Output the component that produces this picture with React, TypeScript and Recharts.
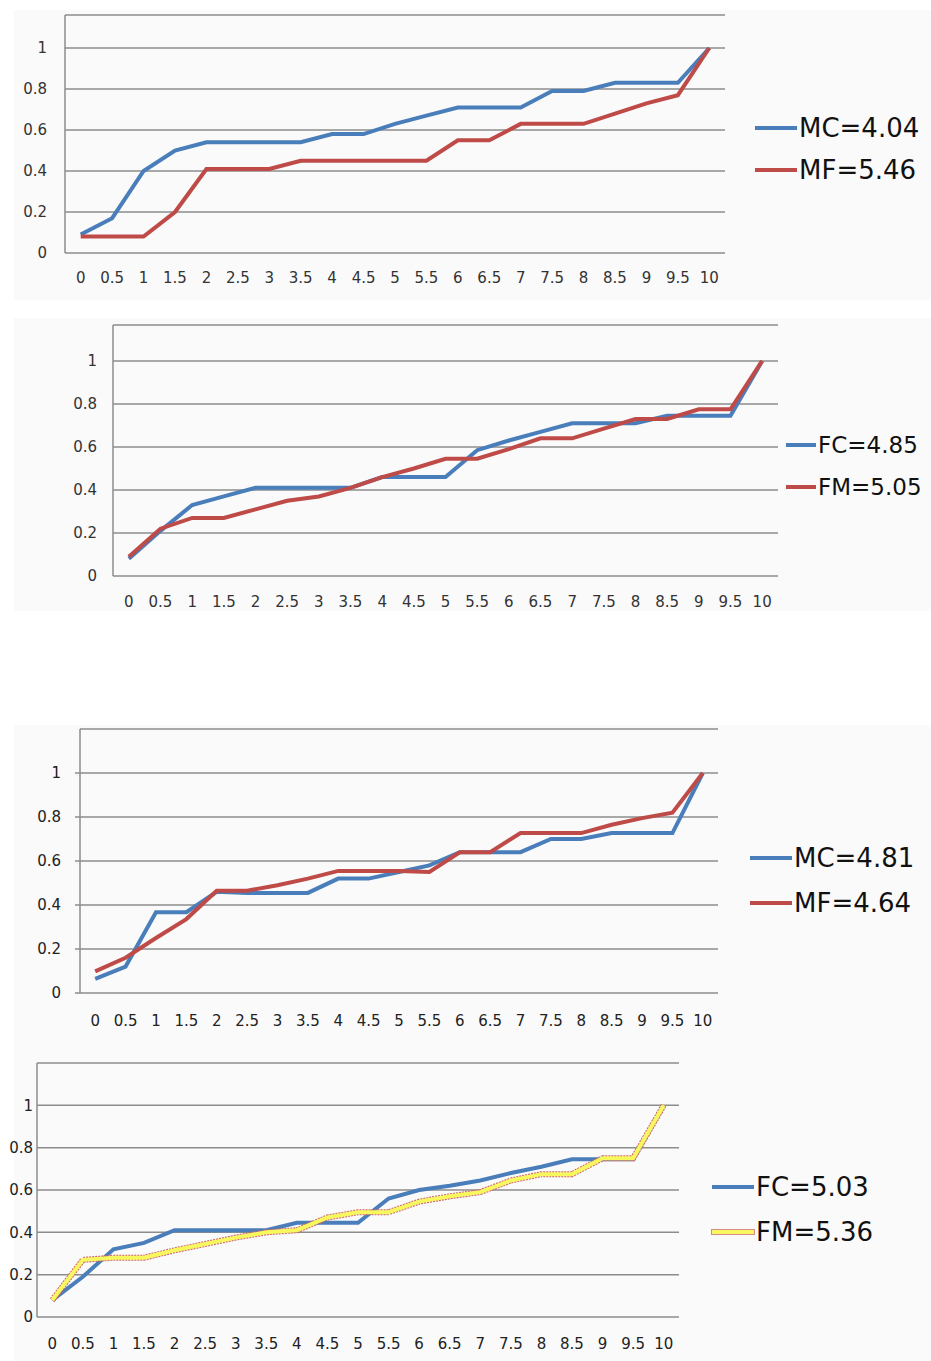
import React from 'react';
import { LineChart, Line, XAxis, YAxis, CartesianGrid } from 'recharts';

// categories (x values)
const categories = [0, 0.5, 1, 1.5, 2, 2.5, 3, 3.5, 4, 4.5, 5, 5.5, 6, 6.5, 7, 7.5, 8, 8.5, 9, 9.5, 10];
const yTicks = [0, 0.2, 0.4, 0.6, 0.8, 1];

// chart 1
const mc1 = [0.09, 0.17, 0.4, 0.5, 0.54, 0.54, 0.54, 0.54, 0.58, 0.58, 0.63, 0.67, 0.71, 0.71, 0.71, 0.79, 0.79, 0.83, 0.83, 0.83, 1.0];
const mf1 = [0.08, 0.08, 0.08, 0.2, 0.41, 0.41, 0.41, 0.45, 0.45, 0.45, 0.45, 0.45, 0.55, 0.55, 0.63, 0.63, 0.63, 0.68, 0.73, 0.77, 1.0];
// chart 2
const fc2 = [0.08, 0.21, 0.33, 0.37, 0.41, 0.41, 0.41, 0.41, 0.46, 0.46, 0.46, 0.585, 0.63, 0.67, 0.71, 0.71, 0.71, 0.745, 0.745, 0.745, 1.0];
const fm2 = [0.09, 0.22, 0.27, 0.27, 0.31, 0.35, 0.37, 0.41, 0.46, 0.5, 0.545, 0.545, 0.59, 0.64, 0.64, 0.685, 0.73, 0.73, 0.775, 0.775, 1.0];
// chart 3
const mc3 = [0.064, 0.12, 0.367, 0.367, 0.46, 0.455, 0.455, 0.455, 0.52, 0.52, 0.55, 0.58, 0.64, 0.64, 0.64, 0.7, 0.7, 0.727, 0.727, 0.727, 1.0];
const mf3 = [0.098, 0.16, 0.25, 0.336, 0.465, 0.465, 0.49, 0.52, 0.555, 0.555, 0.555, 0.55, 0.64, 0.64, 0.727, 0.727, 0.727, 0.765, 0.795, 0.82, 1.0];
// chart 4
const fc4 = [0.08, 0.19, 0.32, 0.35, 0.41, 0.41, 0.41, 0.41, 0.445, 0.445, 0.445, 0.56, 0.6, 0.62, 0.645, 0.68, 0.71, 0.745, 0.745, 0.745, 1.0];
const fm4 = [0.08, 0.27, 0.28, 0.28, 0.315, 0.345, 0.375, 0.4, 0.41, 0.47, 0.495, 0.495, 0.545, 0.57, 0.59, 0.645, 0.675, 0.675, 0.75, 0.75, 1.0];

const labels1 = ['MC=4.04', 'MF=5.46'];
const labels2 = ['FC=4.85', 'FM=5.05'];
const labels3 = ['MC=4.81', 'MF=4.64'];
const labels4 = ['FC=5.03', 'FM=5.36'];

const BLUE = '#4a7ebb';
const RED = '#be4b48';
const YELLOW = '#f7f75e';
const GRID = '#8c8c8c';

const boundaries = categories.map((c) => c - 0.25).concat([categories[categories.length - 1] + 0.25]);

function buildData(a: number[], b: number[]) {
  return categories.map((x, i) => ({ x, a: a[i], b: b[i] }));
}

type LegendItem = { name: string; color: string; outline?: string; left: number; top: number };

type PanelProps = {
  top: number;
  height: number;
  axisX: number;
  plotRight: number;
  plotTop: number;
  zeroY: number;
  yMax: number;
  a: number[];
  b: number[];
  bColor: string;
  bOutline?: string;
  legend: LegendItem[];
  legendFont?: number;
  swatch?: number;
  strongTicks?: boolean;
  yTickMargin: number;
  xTickMargin: number;
  textColor: string;
};

function Panel(p: PanelProps) {
  const data = buildData(p.a, p.b);
  const labelH = p.top + p.height - p.zeroY;
  const tickFont = { fontFamily: 'DejaVu Sans, sans-serif', fontSize: 15, fill: p.textColor };
  const lf = p.legendFont || 26;
  return (
    <div style={{ position: 'absolute', left: 0, top: p.top, width: 931, height: p.height }}>
      <LineChart
        width={931}
        height={p.height}
        data={data}
        margin={{ top: p.plotTop - p.top, right: 931 - p.plotRight, bottom: 0, left: 0 }}
      >
        <CartesianGrid vertical={false} stroke={GRID} strokeWidth={1.5} />
        <XAxis
          xAxisId={0}
          type="number"
          dataKey="x"
          domain={[boundaries[0], boundaries[boundaries.length - 1]]}
          ticks={boundaries}
          tick={false}
          height={0}
          axisLine={{ stroke: GRID, strokeWidth: 1.5 }}
          tickLine={p.strongTicks ? { stroke: GRID, strokeWidth: 1.5 } : { stroke: '#c9c9c9', strokeWidth: 1 }}
          tickSize={p.strongTicks ? 8 : 3}
        />
        <XAxis
          xAxisId="lab"
          type="number"
          dataKey="x"
          domain={[boundaries[0], boundaries[boundaries.length - 1]]}
          ticks={categories}
          interval={0}
          height={labelH}
          axisLine={false}
          tickLine={false}
          tickMargin={p.xTickMargin}
          tick={tickFont}
        />
        <YAxis
          type="number"
          domain={[0, p.yMax]}
          ticks={yTicks}
          width={p.axisX}
          axisLine={{ stroke: GRID, strokeWidth: 1.5 }}
          tickLine={p.strongTicks ? { stroke: GRID, strokeWidth: 1.5 } : false}
          tickSize={p.strongTicks ? 5 : 0}
          tickMargin={p.yTickMargin}
          tick={tickFont}
        />
        <Line
          type="linear"
          dataKey="a"
          stroke={BLUE}
          strokeWidth={4}
          dot={false}
          isAnimationActive={false}
        />
        {p.bOutline ? (
          <Line
            type="linear"
            dataKey="b"
            stroke={p.bOutline}
            strokeWidth={6}
            strokeDasharray="2 1"
            dot={false}
            legendType="none"
            isAnimationActive={false}
          />
        ) : null}
        <Line
          type="linear"
          dataKey="b"
          stroke={p.bColor}
          strokeWidth={4}
          dot={false}
          isAnimationActive={false}
        />
      </LineChart>
      {p.legend.map((l) => (
        <div
          key={l.name}
          style={{
            position: 'absolute',
            left: l.left,
            top: l.top - p.top - 16,
            height: 32,
            display: 'flex',
            alignItems: 'center',
            whiteSpace: 'nowrap',
            fontFamily: 'DejaVu Sans, sans-serif',
            fontSize: lf,
            color: '#111',
          }}
        >
          <div
            style={{
              width: p.swatch || 42,
              height: 4,
              background: l.color,
              boxShadow: l.outline ? `0 0 0 1px ${l.outline}` : undefined,
              marginRight: 2,
            }}
          />
          <span>{l.name}</span>
        </div>
      ))}
    </div>
  );
}

export default function App() {
  return (
    <div
      style={{
        position: 'absolute',
        left: 0,
        top: 0,
        width: 931,
        height: 1361,
        overflow: 'hidden',
        background: '#ffffff',
      }}
    >
      <div style={{ position: 'absolute', left: 14, top: 10, width: 917, height: 290, background: '#fafafa' }} />
      <div style={{ position: 'absolute', left: 14, top: 318, width: 917, height: 293, background: '#fafafa' }} />
      <div style={{ position: 'absolute', left: 14, top: 725, width: 917, height: 636, background: '#fafafa' }} />

      <Panel
        top={0}
        height={300}
        axisX={65}
        plotRight={725}
        plotTop={15}
        zeroY={253}
        yMax={1.161}
        a={mc1}
        b={mf1}
        bColor={RED}
        legend={[
          { name: labels1[0], color: BLUE, left: 755, top: 128 },
          { name: labels1[1], color: RED, left: 755, top: 170 },
        ]}
        yTickMargin={18}
        xTickMargin={13}
        textColor="#333"
      />
      <Panel
        top={310}
        height={300}
        axisX={113}
        plotRight={778}
        plotTop={325}
        zeroY={576}
        yMax={1.167}
        a={fc2}
        b={fm2}
        bColor={RED}
        legend={[
          { name: labels2[0], color: BLUE, left: 786, top: 445 },
          { name: labels2[1], color: RED, left: 786, top: 487 },
        ]}
        legendFont={23}
        swatch={30}
        yTickMargin={16}
        xTickMargin={14}
        textColor="#333"
      />
      <Panel
        top={720}
        height={330}
        axisX={80}
        plotRight={718}
        plotTop={729}
        zeroY={993}
        yMax={1.2}
        a={mc3}
        b={mf3}
        bColor={RED}
        legend={[
          { name: labels3[0], color: BLUE, left: 750, top: 858 },
          { name: labels3[1], color: RED, left: 750, top: 903 },
        ]}
        strongTicks
        yTickMargin={14}
        xTickMargin={16}
        textColor="#222"
      />
      <Panel
        top={1050}
        height={311}
        axisX={37}
        plotRight={679}
        plotTop={1063}
        zeroY={1317}
        yMax={1.2}
        a={fc4}
        b={fm4}
        bColor={YELLOW}
        bOutline="#d06464"
        legend={[
          { name: labels4[0], color: BLUE, left: 712, top: 1187 },
          { name: labels4[1], color: YELLOW, outline: '#d88', left: 712, top: 1232 },
        ]}
        yTickMargin={4}
        xTickMargin={15}
        textColor="#222"
      />
    </div>
  );
}
